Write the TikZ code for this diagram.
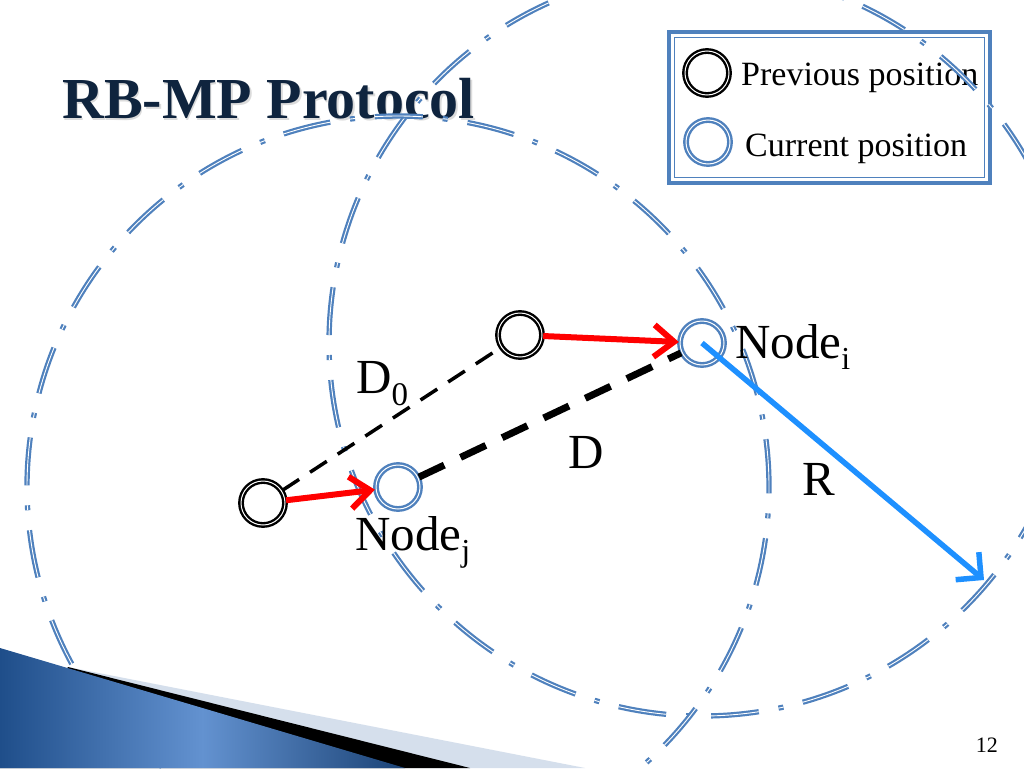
\documentclass[tikz,border=0pt]{standalone}
\usepackage{fontspec}
\setmainfont{Liberation Serif}
\usetikzlibrary{arrows.meta}
\definecolor{ringblue}{HTML}{4F81BD}
\definecolor{titlenavy}{HTML}{0F243E}
\definecolor{rarrow}{HTML}{1E90FF}
\definecolor{bandlight}{HTML}{D5DFEC}
\definecolor{decdark}{HTML}{1F4E8A}
\definecolor{decmid}{HTML}{6392D0}
\begin{document}
\begin{tikzpicture}[x=1pt,y=-1pt,
  rangering/.style={draw=ringblue, line width=2.2pt, double=white, double distance=0.9pt,
    dash pattern=on 48pt off 20pt on 5pt off 20pt},
  prevnode/.style={circle, draw=black, line width=2.4pt, double=white, double distance=1pt,
    minimum size=44pt, inner sep=0pt},
  curnode/.style={circle, draw=ringblue, line width=2.4pt, double=white, double distance=1pt,
    minimum size=44pt, inner sep=0pt},
  moveline/.style={draw=red, line width=6pt, -{Straight Barb[length=20pt,width=32pt]}},
  rline/.style={draw=rarrow, line width=5.5pt, -{Straight Barb[length=18pt,width=36pt]}},
  dzero/.style={draw=black, line width=3.5pt, dash pattern=on 20pt off 13pt},
  dline/.style={draw=black, line width=7pt, dash pattern=on 28pt off 18pt},
  biglabel/.style={anchor=base west, inner sep=0pt, font=\fontsize{49}{52}\selectfont},
  legtext/.style={anchor=base west, inner sep=0pt, font=\fontsize{34}{36}\selectfont},
  titletext/.style={anchor=base west, inner sep=0pt, font=\fontsize{58}{60}\selectfont\bfseries}
]
\useasboundingbox (0,0) rectangle (1024,768);
\fill[white] (0,0) rectangle (1024,768);

% title with soft shadow
\node[titletext, text=black!40, opacity=0.35] (titleshadow) at (63.5,120) {RB-MP Protocol};
\node[titletext, text=titlenavy] (title) at (62,118) {RB-MP Protocol};

% legend
\draw[ringblue, line width=4pt] (669,32) rectangle (990,183);
\draw[ringblue, line width=1.3pt] (674.5,37.5) rectangle (984.5,177.5);
\node[prevnode] (legprev) at (707,73) {};
\node[curnode] (legcur) at (708,142) {};
\node[legtext] (legprevtxt) at (741,85) {Previous position};
\node[legtext] (legcurtxt) at (745,156) {Current position};

% centres
\coordinate (pjc) at (263,503);
\coordinate (cjc) at (398,487);
\coordinate (pic) at (520,335);
\coordinate (cic) at (702,343);

% range circles
\draw[rangering] (cic) circle[radius=373pt];
\draw[rangering] (cjc) circle[radius=371pt];

% bottom-left decoration
\fill[bandlight] (68,667) -- (585,768) -- (0,768) -- cycle;
\fill[black] (68,667) -- (470,768) -- (0,768) -- cycle;
\shade[left color=decdark, right color=decdark!85!black, middle color=decmid]
  (0,648) -- (405,768) -- (0,768) -- cycle;

% nodes
\node[prevnode] (pj) at (pjc) {};
\node[curnode] (cj) at (cjc) {};
\node[prevnode] (pi) at (pic) {};
\node[curnode] (ci) at (cic) {};
\coordinate (rtip) at (984,580);

% connectors
\draw[dzero] (pj) -- (pi);
\draw[dline] (cj) -- (ci);
\draw[moveline] (pj) -- (cj);
\draw[moveline] (pi) -- (ci);
\draw[rline] (ci.center) -- (rtip);

% labels
\node[biglabel] (lbld0) at (356,393) {D\raisebox{-12pt}{\fontsize{33}{33}\selectfont 0}};
\node[biglabel] (lbld) at (568,468) {D};
\node[biglabel] (lblr) at (802,495) {R};
\node[biglabel] (lbli) at (735,358) {Node\raisebox{-11pt}{\fontsize{32}{32}\selectfont i}};
\node[biglabel] (lblj) at (355,550) {Node\raisebox{-11pt}{\fontsize{32}{32}\selectfont j}};

% page number
\node[anchor=base east, inner sep=0pt, font=\fontsize{22}{24}\selectfont] (pagenum) at (998,752) {12};
\end{tikzpicture}
\end{document}
